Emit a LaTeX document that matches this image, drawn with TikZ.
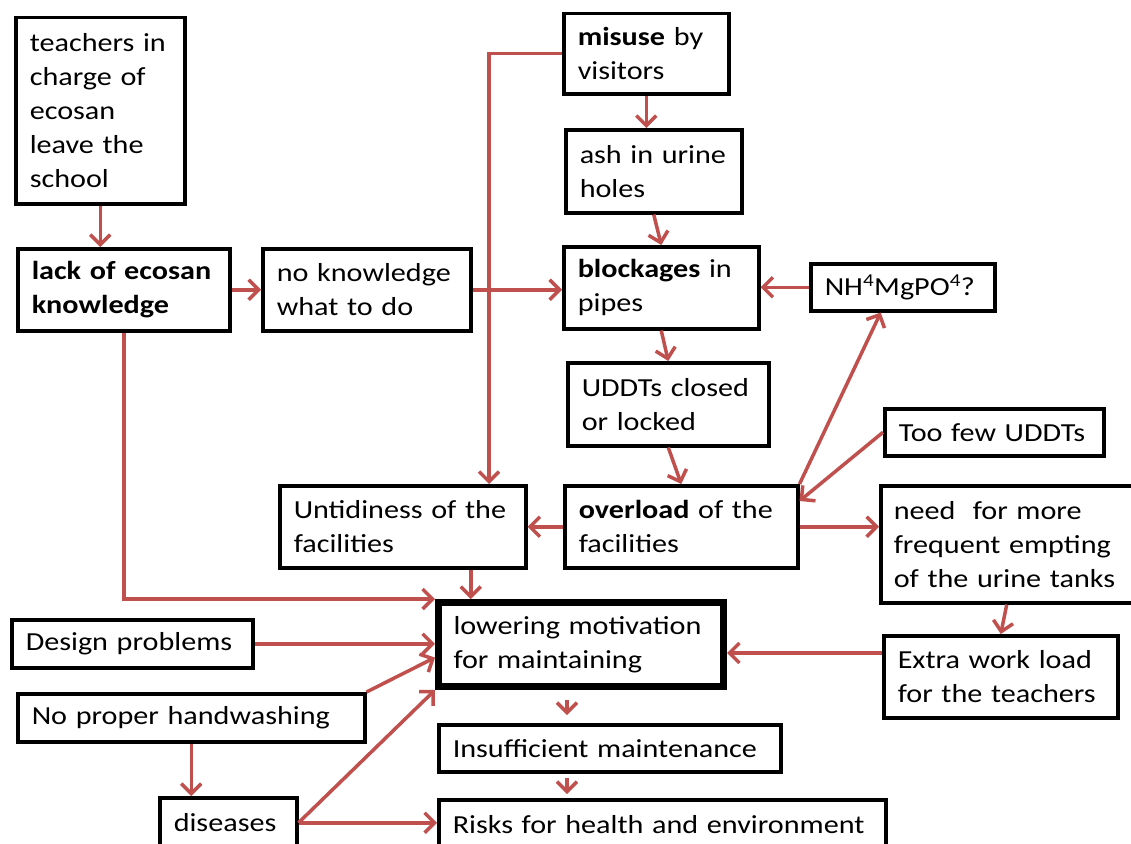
\documentclass[tikz,border=0pt]{standalone}
\usepackage{fontspec}
\setmainfont{Carlito}[FakeStretch=1.16]
\usetikzlibrary{arrows.meta}
\definecolor{arrred}{RGB}{192,80,77}
\begin{document}
\begin{tikzpicture}[x=1pt,y=-1pt,
  box/.style={draw=black, line width=3.5pt, anchor=north west, align=left,
    inner xsep=14pt, inner ysep=0pt, font=\fontsize{26pt}{34pt}\selectfont},
  arr/.style={draw=arrred, line width=3.5pt,
    -{Straight Barb[length=10pt,width=20pt,line width=3.5pt]}}]
\useasboundingbox[fill=white] (0,0) rectangle (1131,843);
% nodes
\node[box, text width=141pt, minimum height=186pt] (teach) at (14,16) {teachers in\\ charge of\\ ecosan\\ leave the\\ school};
\node[box, text width=184pt, minimum height=82pt] (lack) at (16,247) {\textbf{lack of ecosan}\\ \textbf{knowledge}};
\node[box, text width=180pt, minimum height=82pt] (noknow) at (261,247) {no knowledge\\ what to do};
\node[box, text width=137pt, minimum height=80pt] (misuse) at (562,12) {\textbf{misuse} by\\ visitors};
\node[box, text width=148pt, minimum height=83pt] (ash) at (564,128) {ash in urine\\ holes};
\node[box, text width=167pt, minimum height=82pt] (block) at (562,245) {\textbf{blockages} in\\ pipes};
\node[box, text width=156pt, minimum height=47pt] (nh) at (809,262) {NH\textsuperscript{4}MgPO\textsuperscript{4}?};
\node[box, text width=173pt, minimum height=83pt] (uddt) at (566,361) {UDDTs closed\\ or locked};
\node[box, text width=205pt, minimum height=82pt] (over) at (563,484) {\textbf{overload} of the\\ facilities};
\node[box, text width=191pt, minimum height=47pt] (few) at (883,407) {Too few UDDTs};
\node[box, text width=226pt, minimum height=117pt, inner xsep=13pt] (need) at (879,484) {need\ \ for more\\ frequent empting\\ of the urine tanks};
\node[box, text width=218pt, minimum height=82pt] (untid) at (278,484) {Untidiness of the\\ facilities};
\node[box, line width=7pt, text width=255pt, minimum height=84pt, inner xsep=15pt] (lower) at (435,599) {lowering motivation\\ for maintaining};
\node[box, text width=213pt, minimum height=48pt] (design) at (10,618) {Design problems};
\node[box, text width=319pt, minimum height=48pt] (noprop) at (16,692) {No proper handwashing};
\node[box, text width=206pt, minimum height=82pt] (extra) at (882,634) {Extra work load\\ for the teachers};
\node[box, text width=314pt, minimum height=47pt] (insuf) at (437,723) {Insufficient maintenance};
\node[box, text width=109pt, minimum height=50pt] (dise) at (158,796) {diseases};
\node[box, text width=419pt, minimum height=50pt] (risks) at (437,798) {Risks for health and environment};
% connectors
\coordinate (m1) at (489,52);
\draw[arr] (teach.south) -- (teach.south |- lack.north);
\draw[arr] (lack.east) -- (lack.east -| noknow.west);
\draw[arr] (noknow.east) -- (noknow.east -| block.west);
\draw[arr] (misuse.west) -- (misuse.west -| m1) -- (m1 |- untid.north);
\draw[arr] (misuse.south) -- (misuse.south |- ash.north);
\draw[arr] (ash.south) -- (block.north);
\draw[arr] (block.south) -- (uddt.north);
\draw[arr] (uddt.south) -- (over.north);
\draw[arr] (nh.west) -- (nh.west -| block.east);
\draw[arr] (over.north east) -- ([xshift=-22pt]nh.south);
\draw[arr] (few.west) -- ([yshift=-17pt]over.north east);
\draw[arr] (over.east) -- (over.east -| need.west);
\draw[arr] (over.west) -- (over.west -| untid.east);
\draw[arr] (need.south) -- (extra.north);
\draw[arr] ([yshift=-19pt]extra.north west) -- ([yshift=-19pt]extra.north west -| lower.east);
\draw[arr] ([xshift=68pt]untid.south) -- ([xshift=68pt]untid.south |- lower.north);
\draw[arr] (lack.south) |- (lower.north west);
\draw[arr] (design.east) -- (design.east -| lower.west);
\draw[arr] (noprop.north east) -- ([yshift=-13pt]lower.west);
\draw[arr] (noprop.south) -- (noprop.south |- dise.north);
\draw[arr] (dise.east) -- (lower.south west);
\draw[arr] (dise.east) -- (dise.east -| risks.west);
\draw[arr, shorten <=10pt, shorten >=8pt] ([xshift=-14pt]lower.south) -- ([xshift=-14pt]lower.south |- insuf.north);
\draw[arr, shorten <=4pt, shorten >=4pt] ([xshift=-14pt]lower.south |- insuf.south) -- ([xshift=-14pt]lower.south |- risks.north);
\end{tikzpicture}
\end{document}
